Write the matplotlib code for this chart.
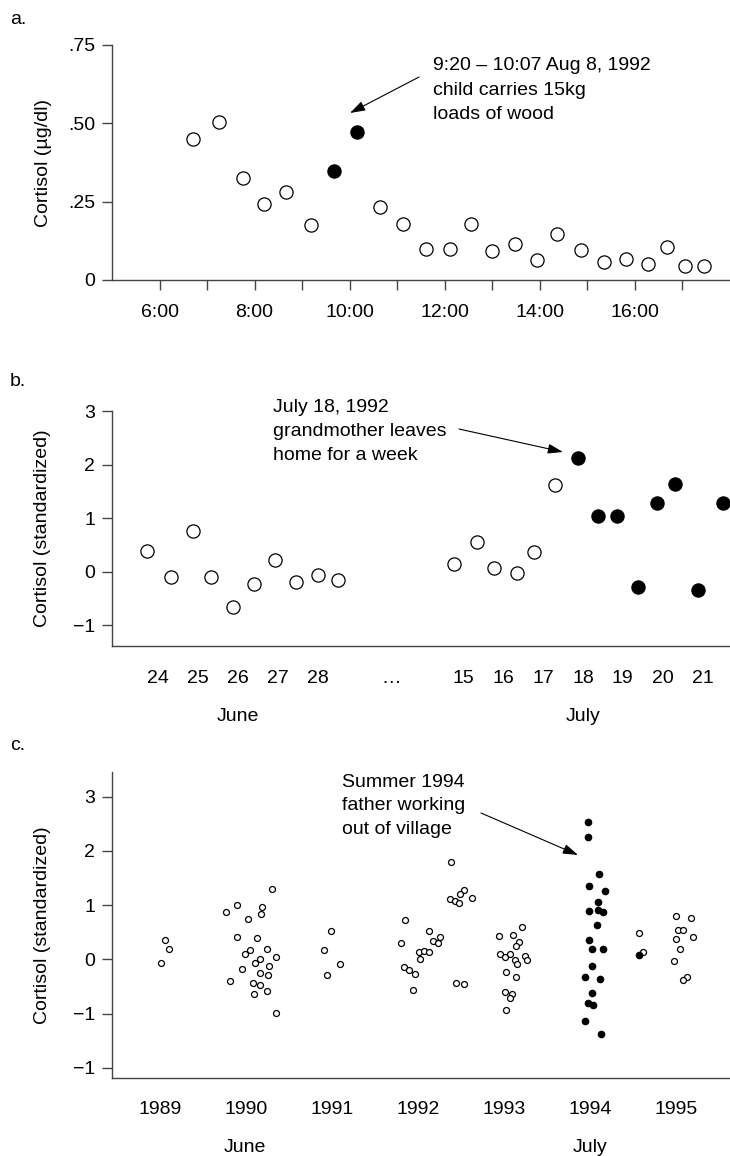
import matplotlib
matplotlib.use('Agg')
import matplotlib.pyplot as plt
from matplotlib.patches import FancyArrowPatch

plt.rcParams['font.family'] = ['Liberation Sans', 'DejaVu Sans']
plt.rcParams['font.size'] = 14

W, H, DPI = 730, 1156, 100
SPINE = '#444444'

# ---------------- Panel a data ----------------
a_hours_open = [6.70, 7.245, 7.76, 8.20, 8.67, 9.19, 10.64, 11.12, 11.61, 12.10,
                12.56, 13.00, 13.47, 13.93, 14.37, 14.86, 15.36, 15.82, 16.27,
                16.68, 17.06, 17.46]
a_cortisol_open = [0.449, 0.504, 0.325, 0.243, 0.282, 0.175, 0.232, 0.178, 0.100,
                   0.100, 0.179, 0.094, 0.114, 0.065, 0.148, 0.097, 0.058, 0.067,
                   0.052, 0.105, 0.046, 0.046]
a_hours_filled = [9.68, 10.16]
a_cortisol_filled = [0.349, 0.472]
a_xticks = list(range(6, 18))
a_xticklabels = ['6:00', '', '8:00', '', '10:00', '', '12:00', '', '14:00', '', '16:00', '']
a_yticks = [0, 0.25, 0.5, 0.75]
a_yticklabels = ['0', '.25', '.50', '.75']

# ---------------- Panel b data ----------------
b_june_days = [23.71, 24.31, 24.88, 25.33, 25.88, 26.40, 26.93, 27.46, 28.01, 28.52]
b_june_vals = [0.39, -0.10, 0.76, -0.10, -0.66, -0.23, 0.21, -0.20, -0.07, -0.16]
b_july_days_open = [14.77, 15.33, 15.76, 16.33, 16.78, 17.30]
b_july_vals_open = [0.14, 0.56, 0.07, -0.03, 0.37, 1.61]
b_july_days_filled = [17.88, 18.37, 18.86, 19.37, 19.87, 20.31, 20.90, 21.51]
b_july_vals_filled = [2.13, 1.03, 1.03, -0.29, 1.29, 1.64, -0.34, 1.29]
b_june_labels = ['24', '25', '26', '27', '28']
b_july_labels = ['15', '16', '17', '18', '19', '20', '21']
b_yticks = [-1, 0, 1, 2, 3]

# ---------------- Panel c data ----------------
c_years = ['1989', '1990', '1991', '1992', '1993', '1994', '1995']
c_x_open = [1989.055, 1989.10, 1989.015,
            1990.304, 1989.898, 1989.770, 1990.181, 1990.177, 1990.019, 1989.898,
            1990.123, 1990.246, 1990.045, 1989.984, 1990.344, 1990.161, 1990.103,
            1990.262, 1989.956, 1990.165, 1990.254, 1989.816, 1990.080, 1990.165,
            1990.246, 1990.092, 1990.347,
            1990.986, 1990.901, 1991.091, 1990.943,
            1992.383, 1992.531, 1992.488, 1992.365, 1992.426, 1992.473, 1992.627,
            1991.842, 1992.124, 1992.249, 1992.171, 1992.229, 1991.803, 1992.012,
            1992.070, 1992.128, 1992.023, 1991.837, 1991.895, 1991.958, 1991.942,
            1992.441, 1992.527,
            1993.201, 1992.941, 1993.100, 1993.170, 1993.135, 1992.952, 1993.003,
            1993.065, 1993.120, 1993.143, 1993.243, 1993.266, 1993.015, 1993.138,
            1993.010, 1993.092, 1993.065, 1993.022,
            1994.567, 1994.613,
            1994.993, 1995.167, 1995.013, 1995.078, 1995.187, 1994.993, 1995.036,
            1994.970, 1995.124, 1995.078]
c_y_open = [0.355, 0.19, -0.07,
            1.30, 1.005, 0.877, 0.976, 0.840, 0.748, 0.416, 0.387, 0.195, 0.171,
            0.098, 0.048, 0.0, -0.074, -0.123, -0.184, -0.247, -0.289, -0.405,
            -0.442, -0.473, -0.589, -0.639, -0.983,
            0.521, 0.171, -0.092, -0.284,
            1.792, 1.289, 1.203, 1.116, 1.079, 1.042, 1.134, 0.724, 0.534, 0.411,
            0.343, 0.295, 0.300, 0.129, 0.158, 0.134, 0.011, -0.136, -0.197,
            -0.265, -0.565, -0.431, -0.455,
            0.600, 0.442, 0.448, 0.313, 0.245, 0.110, 0.048, 0.098, -0.007, -0.081,
            0.066, -0.007, -0.228, -0.331, -0.602, -0.634, -0.707, -0.934,
            0.490, 0.140,
            0.810, 0.773, 0.545, 0.552, 0.416, 0.374, 0.190, -0.031, -0.320, -0.387]
c_x_filled = [1993.974, 1993.974, 1994.102, 1993.983, 1994.165, 1994.084, 1993.979,
              1994.084, 1994.145, 1994.079, 1993.979, 1994.017, 1994.145, 1994.021,
              1993.940, 1994.107, 1994.021, 1993.974, 1994.025, 1993.940, 1994.126,
              1994.563]
c_y_filled = [2.541, 2.252, 1.571, 1.363, 1.271, 1.061, 0.902, 0.921, 0.866, 0.632,
              0.350, 0.190, 0.190, -0.129, -0.331, -0.357, -0.615, -0.799, -0.847,
              -1.131, -1.381, 0.079]
c_yticks = [-2, -1, 0, 1, 2, 3]
c_yticklabels = ['\u22121', '\u22121', '0', '1', '2', '3']

JULY_SHIFT = 16.67   # horizontal position offset of July days in panel b
ELLIPSIS_POS = 29.85

fig = plt.figure(figsize=(W / DPI, H / DPI), dpi=DPI)


def fx(px):
    return px / W


def fy(py):
    return 1 - py / H


def make_axes(top, bottom, left=112, right=730):
    ax = fig.add_axes([fx(left), fy(bottom), (right - left) / W, (bottom - top) / H])
    for s in ['top', 'right']:
        ax.spines[s].set_visible(False)
    for s in ['left', 'bottom']:
        ax.spines[s].set_color(SPINE)
        ax.spines[s].set_linewidth(1.0)
    ax.tick_params(axis='y', direction='out', length=7.2, width=1.0, color=SPINE,
                   pad=5, labelsize=14)
    ax.patch.set_alpha(0)
    return ax


def open_pts(ax, x, y, ms):
    ax.plot(x, y, ls='none', marker='o', ms=ms, mfc='white', mec='black', mew=0.9,
            clip_on=False, zorder=3)


def filled_pts(ax, x, y, ms):
    ax.plot(x, y, ls='none', marker='o', ms=ms, mfc='black', mec='black', mew=0.9,
            clip_on=False, zorder=3)


def arrow(p0, p1):
    fig.add_artist(FancyArrowPatch((fx(p0[0]), fy(p0[1])), (fx(p1[0]), fy(p1[1])),
                                   transform=fig.transFigure,
                                   arrowstyle='-|>,head_length=0.4,head_width=0.13',
                                   mutation_scale=23, lw=0.8, color='black',
                                   shrinkA=0, shrinkB=0))


def lines(x, baselines, texts):
    for b, t in zip(baselines, texts):
        fig.text(fx(x), fy(b), t, ha='left', va='baseline', fontsize=14)


# ---------------- Panel a ----------------
axa = make_axes(45, 280)
open_pts(axa, a_hours_open, a_cortisol_open, 9.5)
filled_pts(axa, a_hours_filled, a_cortisol_filled, 9.5)
axa.set_xlim(5, 18)
axa.set_ylim(0, 0.75)
axa.set_yticks(a_yticks)
axa.set_yticklabels(a_yticklabels)
axa.set_xticks(a_xticks)
axa.set_xticklabels(a_xticklabels)
axa.tick_params(axis='x', direction='out', length=7.2, width=1.0, color=SPINE,
                pad=10, labelsize=14)
fig.text(fx(43), fy(163), 'Cortisol (\u00b5g/dl)', rotation=90, ha='center', va='center')
fig.text(fx(10), fy(24), 'a.', ha='left', va='baseline')
lines(433, [70, 95, 119], ['9:20 \u2013 10:07 Aug 8, 1992', 'child carries 15kg',
                           'loads of wood'])
arrow((419, 77), (350, 113))

# ---------------- Panel b ----------------
axb = make_axes(411, 645.7)
open_pts(axb, b_june_days, b_june_vals, 9.5)
open_pts(axb, [d + JULY_SHIFT for d in b_july_days_open], b_july_vals_open, 9.5)
filled_pts(axb, [d + JULY_SHIFT for d in b_july_days_filled], b_july_vals_filled, 9.5)
axb.set_xlim(22.837, 38.364)
axb.set_ylim(-1.383, 3)
axb.set_yticks(b_yticks)
axb.set_yticklabels([str(v).replace('-', '\u2212') for v in b_yticks])
b_pos = [24 + i for i in range(len(b_june_labels))] + [ELLIPSIS_POS] + \
        [15 + JULY_SHIFT + i for i in range(len(b_july_labels))]
axb.set_xticks(b_pos)
axb.set_xticklabels(b_june_labels + ['\u2026'] + b_july_labels)
axb.tick_params(axis='x', length=0, pad=17.5, labelsize=14)
fig.text(fx(43), fy(528), 'Cortisol (standardized)', rotation=90, ha='center', va='center')
fig.text(fx(10), fy(386), 'b.', ha='left', va='baseline')
fig.text(fx(238), fy(721), 'June', ha='center', va='baseline')
fig.text(fx(583), fy(721), 'July', ha='center', va='baseline')
lines(273, [412, 436, 460], ['July 18, 1992', 'grandmother leaves', 'home for a week'])
arrow((459, 429), (563, 452))

# ---------------- Panel c ----------------
axc = make_axes(772.3, 1078.3)
open_pts(axc, c_x_open, c_y_open, 4.3)
filled_pts(axc, c_x_filled, c_y_filled, 4.6)
axc.set_xlim(1988.4425, 1995.62)
axc.set_ylim(-2.19, 3.45)
axc.set_yticks(c_yticks)
axc.set_yticklabels(c_yticklabels)
axc.set_xticks([int(y) for y in c_years])
axc.set_xticklabels(c_years)
axc.tick_params(axis='x', length=0, pad=16.3, labelsize=14)
fig.text(fx(43), fy(925), 'Cortisol (standardized)', rotation=90, ha='center', va='center')
fig.text(fx(10), fy(750), 'c.', ha='left', va='baseline')
fig.text(fx(245), fy(1152), 'June', ha='center', va='baseline')
fig.text(fx(590), fy(1152), 'July', ha='center', va='baseline')
lines(342, [787, 810, 834], ['Summer 1994', 'father working', 'out of village'])
arrow((481, 813), (578, 855))

fig.savefig('out.png', dpi=DPI)
